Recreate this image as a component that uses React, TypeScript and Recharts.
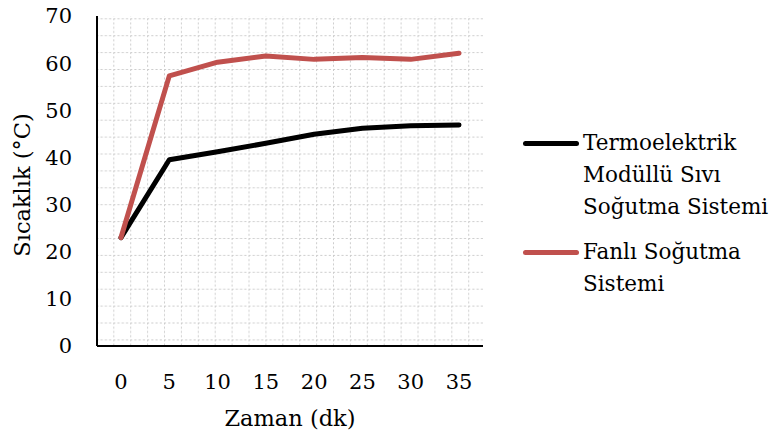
import React from "react";
import { LineChart, Line, XAxis, YAxis, CartesianGrid } from "recharts";

const minutes = [0, 5, 10, 15, 20, 25, 30, 35];
const thermoelectric = [23, 39.5, 41.2, 43.0, 44.9, 46.2, 46.7, 46.9];
const fanCooled = [23, 57.3, 60.2, 61.5, 60.8, 61.2, 60.8, 62.1];
const yTicks = [0, 10, 20, 30, 40, 50, 60, 70];

const FONT = "'DejaVu Serif', serif";

const data = minutes.map((t, i) => ({
  t,
  thermo: thermoelectric[i],
  fan: fanCooled[i],
}));

const legendItems = [
  { color: "#000000", lines: ["Termoelektrik", "Modüllü Sıvı", "Soğutma Sistemi"] },
  { color: "#c0504d", lines: ["Fanlı Soğutma", "Sistemi"] },
];

function LegendBox() {
  return (
    <div style={{ fontFamily: FONT, fontSize: 21.5, color: "#000", lineHeight: "32px" }}>
      {legendItems.map((item, i) => (
        <div key={i} style={{ display: "flex", alignItems: "flex-start", marginBottom: i === 0 ? 13 : 0 }}>
          <div style={{ width: 56, height: 32, display: "flex", alignItems: "center" }}>
            <div style={{ width: 56, height: 5, borderRadius: 3, background: item.color }} />
          </div>
          <div style={{ marginLeft: 4 }}>
            {item.lines.map((l) => (
              <div key={l}>{l}</div>
            ))}
          </div>
        </div>
      ))}
    </div>
  );
}

export default function App() {
  return (
    <div style={{ position: "absolute", left: 0, top: 0, width: 773, height: 439, background: "#fff" }}>
      {/* dotted background pattern for the plot area */}
      <svg width={0} height={0} style={{ position: "absolute" }}>
        <defs>
          <pattern id="bgGrid" patternUnits="userSpaceOnUse" x={96.4} y={1.4} width={16.9} height={16.9}>
            <line x1={0} y1={0.5} x2={16.9} y2={0.5} stroke="#cccccc" strokeWidth={1} strokeDasharray="2.1 2.125" />
            <line x1={0.5} y1={0} x2={0.5} y2={16.9} stroke="#cccccc" strokeWidth={1} strokeDasharray="2.1 2.125" />
          </pattern>
        </defs>
      </svg>
      <LineChart width={773} height={439} data={data} margin={{ top: 16, right: 290, left: 30, bottom: 0 }}>
        <CartesianGrid horizontal={false} vertical={false} fill="url(#bgGrid)" />
        <XAxis
          dataKey="t"
          height={93}
          padding={{ left: 24, right: 24 }}
          axisLine={{ stroke: "#000", strokeWidth: 2 }}
          tickLine={false}
          tickSize={6}
          tickMargin={22}
          tick={{ fill: "#000", fontSize: 21, fontFamily: FONT }}
          label={{ value: "Zaman (dk)", position: "insideBottom", offset: 13, fill: "#000", fontSize: 22.5, fontFamily: FONT }}
        />
        <YAxis
          width={67}
          domain={[0, 70]}
          ticks={yTicks}
          interval={0}
          axisLine={{ stroke: "#000", strokeWidth: 2 }}
          tickLine={false}
          tickSize={6}
          tickMargin={19}
          tick={{ fill: "#000", fontSize: 21, fontFamily: FONT }}
          label={{ value: "Sıcaklık (°C)", angle: -90, position: "insideLeft", offset: -8, dy: 4, fill: "#000", fontSize: 22.5, fontFamily: FONT, style: { textAnchor: "middle" } }}
        />
        <Line
          type="linear"
          dataKey="thermo"
          name="Termoelektrik Modüllü Sıvı Soğutma Sistemi"
          stroke="#000000"
          strokeWidth={5}
          strokeLinecap="round"
          strokeLinejoin="round"
          dot={false}
          isAnimationActive={false}
        />
        <Line
          type="linear"
          dataKey="fan"
          name="Fanlı Soğutma Sistemi"
          stroke="#c0504d"
          strokeWidth={5}
          strokeLinecap="round"
          strokeLinejoin="round"
          dot={false}
          isAnimationActive={false}
        />
      </LineChart>
      <div style={{ position: "absolute", left: 523, top: 127 }}>
        <LegendBox />
      </div>
    </div>
  );
}
